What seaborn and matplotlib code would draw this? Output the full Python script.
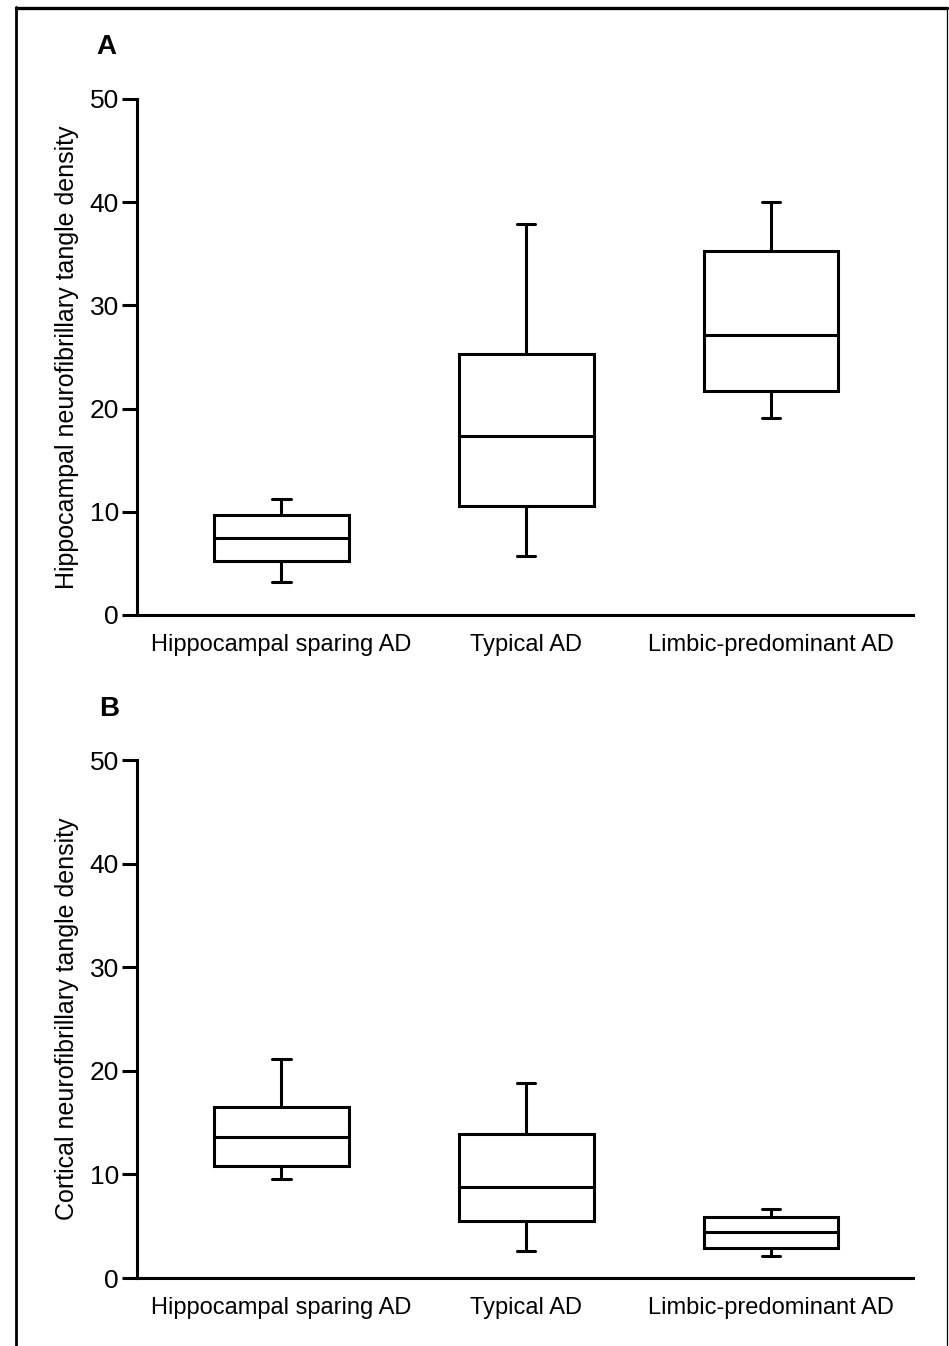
import pandas as pd
import numpy as np
import seaborn as sns
import matplotlib.pyplot as plt
from matplotlib.lines import Line2D

# Dados: [mínimo, Q1, mediana, Q3, máximo]
grupos = ['Hippocampal sparing AD', 'Typical AD', 'Limbic-predominant AD']

hipocampo_sparing = [3.2, 5.2, 7.5, 9.7, 11.2]
hipocampo_tipico = [5.7, 10.6, 17.3, 25.3, 37.9]
hipocampo_limbico = [19.1, 21.7, 27.1, 35.3, 40.0]

cortex_sparing = [9.6, 10.8, 13.6, 16.5, 21.1]
cortex_tipico = [2.6, 5.5, 8.8, 13.9, 18.8]
cortex_limbico = [2.1, 2.9, 4.4, 5.9, 6.7]

yticks = [0, 10, 20, 30, 40, 50]

df_a = pd.DataFrame({
    'grupo': np.repeat(grupos, 5),
    'densidade': hipocampo_sparing + hipocampo_tipico + hipocampo_limbico,
})
df_b = pd.DataFrame({
    'grupo': np.repeat(grupos, 5),
    'densidade': cortex_sparing + cortex_tipico + cortex_limbico,
})

sns.set_style('white')
plt.rcParams['font.family'] = ['Liberation Sans', 'DejaVu Sans']
plt.rcParams['text.color'] = 'black'
plt.rcParams['axes.labelcolor'] = 'black'
plt.rcParams['xtick.color'] = 'black'
plt.rcParams['ytick.color'] = 'black'

W, H = 949, 1346
fig = plt.figure(figsize=(W / 100, H / 100), dpi=100)

lw = 2.2


def painel(df, top_px, bottom_px, ylabel):
    ax = fig.add_axes([137 / W, 1 - bottom_px / H, (913 - 137) / W, (bottom_px - top_px) / H])
    sns.boxplot(data=df, x='grupo', y='densidade', order=grupos, ax=ax,
                whis=(0, 100), width=0.55, color='white', linecolor='black',
                linewidth=lw, capwidths=0.075, showfliers=False)
    ax.set_ylim(0, 50)
    ax.set_xlim(-0.59, 2.58)
    ax.set_yticks(yticks)
    ax.set_xlabel('')
    ax.set_ylabel(ylabel, fontsize=18)
    ax.yaxis.set_label_coords(-0.075, 0.5)
    ax.tick_params(axis='y', length=11, width=lw, pad=2, labelsize=19, left=True)
    ax.tick_params(axis='x', length=0, pad=14, labelsize=17)
    for lado in ['top', 'right']:
        ax.spines[lado].set_visible(False)
    for lado in ['left', 'bottom']:
        ax.spines[lado].set_linewidth(lw)
        ax.spines[lado].set_color('black')
    ax.grid(False)
    return ax


painel(df_a, 99, 615, 'Hippocampal neurofibrillary tangle density')
painel(df_b, 760, 1278, 'Cortical neurofibrillary tangle density')

fig.text(106 / W, 1 - 47 / H, 'A', fontsize=20, fontweight='bold', ha='center', va='center')
fig.text(109 / W, 1 - 709 / H, 'B', fontsize=20, fontweight='bold', ha='center', va='center')

# Moldura
fig.add_artist(Line2D([16 / W, 947 / W], [1 - 7.5 / H, 1 - 7.5 / H], color='black', lw=2.4, transform=fig.transFigure))
fig.add_artist(Line2D([16 / W, 16 / W], [1 - 7 / H, 0], color='black', lw=2.0, transform=fig.transFigure))
fig.add_artist(Line2D([946.5 / W, 946.5 / W], [1 - 7 / H, 0], color='black', lw=0.9, transform=fig.transFigure))

plt.savefig('out.png', dpi=100)
